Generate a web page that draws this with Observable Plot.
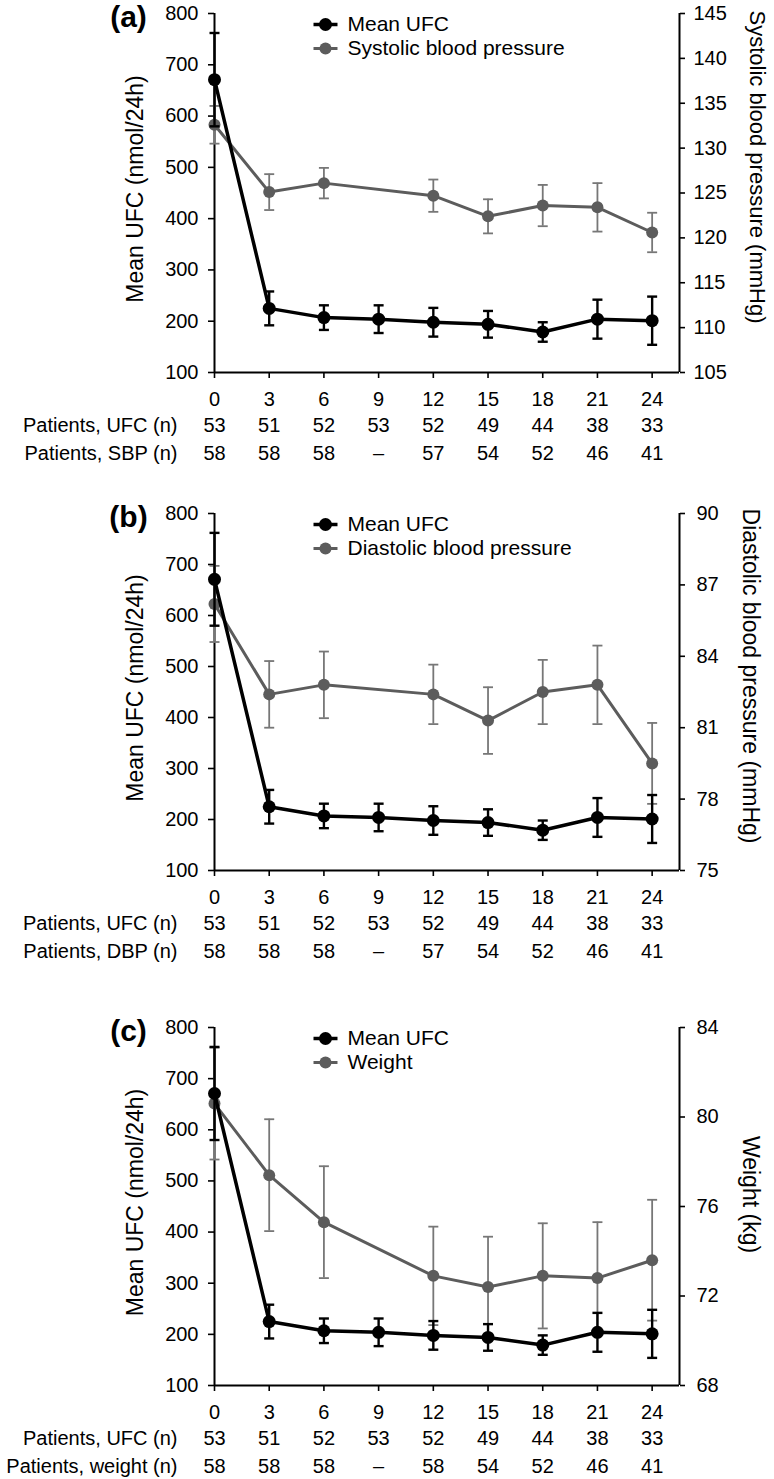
<!DOCTYPE html>
<html><head><meta charset="utf-8">
<script src="https://cdn.jsdelivr.net/npm/d3@7"></script>
<script src="https://cdn.jsdelivr.net/npm/@observablehq/plot@0.6"></script>
<style>
body{margin:0;background:#fff;}
#chart svg{display:block;}
</style></head><body><div id="chart"></div>
<script>
// ---- data ----
const months = [0, 3, 6, 9, 12, 15, 18, 21, 24];
const ufcMean = [671, 225, 207, 204, 198, 194, 179, 204, 201];
const ufcErr  = [91, 33, 24, 27, 28, 26, 19, 38, 47];
const sbpMean = [132.6, 125.1, 126.1, null, 124.7, 122.4, 123.6, 123.4, 120.6];
const sbpErr  = [2.1, 2.0, 1.7, null, 1.8, 1.9, 2.3, 2.7, 2.2];
const dbpMean = [86.2, 82.4, 82.8, null, 82.4, 81.3, 82.5, 82.8, 79.5];
const dbpErr  = [1.6, 1.4, 1.4, null, 1.25, 1.4, 1.35, 1.65, 1.7];
const weightMean = [80.6, 77.4, 75.3, null, 72.9, 72.4, 72.9, 72.8, 73.6];
const weightErr  = [2.5, 2.5, 2.5, null, 2.2, 2.25, 2.35, 2.5, 2.7];
const ufcN    = [53, 51, 52, 53, 52, 49, 44, 38, 33];
const sbpN    = [58, 58, 58, null, 57, 54, 52, 46, 41];
const dbpN    = [58, 58, 58, null, 57, 54, 52, 46, 41];
const weightN = [58, 58, 58, null, 58, 54, 52, 46, 41];
const ufcTicks = [100, 200, 300, 400, 500, 600, 700, 800];
const sbpTicks = [105, 110, 115, 120, 125, 130, 135, 140, 145];
const dbpTicks = [75, 78, 81, 84, 87, 90];
const weightTicks = [68, 72, 76, 80, 84];
const xDomain = [0, 25.5];

const BLACK = "#000";
const GREY = "#5c5c5c";
const GREY_ERR = "#777";
const FONT = "'Liberation Sans', Arial, Helvetica, sans-serif";

const capSym = {draw(ctx, size) { const r = Math.sqrt(size / Math.PI); ctx.moveTo(-r, 0); ctx.lineTo(r, 0); }};

const panels = [
  {tag: "(a)", legend: "Systolic blood pressure", rightTitle: "Systolic blood pressure (mmHg)", rowLabel: "Patients, SBP (n)",
   mean: sbpMean, err: sbpErr, n: sbpN, ticks: sbpTicks,
   height: 478, marginTop: 13, marginBottom: 106, rightPad: 9, rtDx: 78, rtDy: -26, rtSize: 22},
  {tag: "(b)", legend: "Diastolic blood pressure", rightTitle: "Diastolic blood pressure (mmHg)", rowLabel: "Patients, DBP (n)",
   mean: dbpMean, err: dbpErr, n: dbpN, ticks: dbpTicks,
   height: 478, marginTop: 35, marginBottom: 86, rightPad: 12, rtDx: 71, rtDy: -16, rtSize: 23},
  {tag: "(c)", legend: "Weight", rightTitle: "Weight (kg)", rowLabel: "Patients, weight (n)",
   mean: weightMean, err: weightErr, n: weightN, ticks: weightTicks,
   height: 523, marginTop: 71, marginBottom: 94, rightPad: 12, rtDx: 71, rtDy: -12, rtSize: 23}
];

function makePanel(p) {
  const sec = d3.scaleLinear().domain(d3.extent(p.ticks)).range([100, 800]);
  const ufc = months.map((m, i) => ({m, v: ufcMean[i], lo: ufcMean[i] - ufcErr[i], hi: ufcMean[i] + ufcErr[i]}));
  const other = months.map((m, i) => p.mean[i] == null ? null :
    ({m, v: sec(p.mean[i]), lo: sec(p.mean[i] - p.err[i]), hi: sec(p.mean[i] + p.err[i])})).filter(d => d);
  const row1 = months.map((m, i) => ({m, t: String(ufcN[i])}));
  const row2 = months.map((m, i) => ({m, t: p.n[i] == null ? "\u2013" : String(p.n[i])}));

  return Plot.plot({
    width: 774, height: p.height,
    marginLeft: 214, marginRight: 95, marginTop: p.marginTop, marginBottom: p.marginBottom,
    style: {fontFamily: FONT, fontSize: "20px", color: "black", background: "white", overflow: "visible"},
    x: {domain: xDomain},
    y: {domain: [100, 800]},
    marks: [
      // axes
      Plot.axisX(months, {anchor: "bottom", tickSize: 6, tickPadding: 13, strokeWidth: 1.6, label: null, fontSize: 20}),
      Plot.axisY(ufcTicks, {anchor: "left", tickSize: 6, tickPadding: 10, strokeWidth: 1.6, label: null, fontSize: 20}),
      Plot.axisY(p.ticks.map(sec), {anchor: "right", tickSize: 5, tickPadding: p.rightPad, strokeWidth: 1.6, label: null, fontSize: 20,
        tickFormat: u => String(Math.round(sec.invert(u)))}),
      Plot.ruleX([xDomain[0]], {stroke: BLACK, strokeWidth: 2}),
      Plot.ruleX([xDomain[1]], {stroke: BLACK, strokeWidth: 2}),
      Plot.ruleY([100], {stroke: BLACK, strokeWidth: 2}),
      // secondary series (grey)
      Plot.ruleX(other, {x: "m", y1: "lo", y2: "hi", stroke: GREY_ERR, strokeWidth: 1.8}),
      Plot.dot(other, {x: "m", y: "lo", symbol: capSym, r: 5, fill: "none", stroke: GREY_ERR, strokeWidth: 1.8}),
      Plot.dot(other, {x: "m", y: "hi", symbol: capSym, r: 5, fill: "none", stroke: GREY_ERR, strokeWidth: 1.8}),
      Plot.line(other, {x: "m", y: "v", stroke: GREY, strokeWidth: 3, strokeLinejoin: "round"}),
      Plot.dot(other, {x: "m", y: "v", r: 6, fill: GREY}),
      // mean UFC (black)
      Plot.ruleX(ufc, {x: "m", y1: "lo", y2: "hi", stroke: BLACK, strokeWidth: 2.4}),
      Plot.dot(ufc, {x: "m", y: "lo", symbol: capSym, r: 5, fill: "none", stroke: BLACK, strokeWidth: 2.4}),
      Plot.dot(ufc, {x: "m", y: "hi", symbol: capSym, r: 5, fill: "none", stroke: BLACK, strokeWidth: 2.4}),
      Plot.line(ufc, {x: "m", y: "v", stroke: BLACK, strokeWidth: 3.5, strokeLinejoin: "round"}),
      Plot.dot(ufc, {x: "m", y: "v", r: 6.5, fill: BLACK}),
      // legend
      Plot.dot([0], {frameAnchor: "top-left", dx: 111, dy: 11, symbol: capSym, r: 12, fill: "none", stroke: BLACK, strokeWidth: 3.5}),
      Plot.dot([0], {frameAnchor: "top-left", dx: 111, dy: 11, r: 6.5, fill: BLACK}),
      Plot.text(["Mean UFC"], {frameAnchor: "top-left", dx: 133, dy: 11, textAnchor: "start", lineAnchor: "middle", fontSize: 21}),
      Plot.dot([0], {frameAnchor: "top-left", dx: 111, dy: 35, symbol: capSym, r: 12, fill: "none", stroke: GREY, strokeWidth: 3}),
      Plot.dot([0], {frameAnchor: "top-left", dx: 111, dy: 35, r: 6, fill: GREY}),
      Plot.text([p.legend], {frameAnchor: "top-left", dx: 133, dy: 35, textAnchor: "start", lineAnchor: "middle", fontSize: 21}),
      // panel tag
      Plot.text([p.tag], {frameAnchor: "top-left", dx: -86, dy: 4, textAnchor: "middle", lineAnchor: "middle", fontSize: 30, fontWeight: "bold"}),
      // axis titles
      Plot.text(["Mean UFC (nmol/24h)"], {frameAnchor: "left", rotate: -90, dx: -79, dy: -4, textAnchor: "middle", lineAnchor: "middle", fontSize: 23}),
      Plot.text([p.rightTitle], {frameAnchor: "right", rotate: 90, dx: p.rtDx, dy: p.rtDy, textAnchor: "middle", lineAnchor: "middle", fontSize: p.rtSize}),
      // patient-count rows
      Plot.text(row1, {x: "m", text: "t", frameAnchor: "bottom", dy: 53, lineAnchor: "middle", textAnchor: "middle", fontSize: 20}),
      Plot.text(row2, {x: "m", text: "t", frameAnchor: "bottom", dy: 81, lineAnchor: "middle", textAnchor: "middle", fontSize: 20}),
      Plot.text(["Patients, UFC (n)"], {frameAnchor: "bottom-left", dx: -37, dy: 53, textAnchor: "end", lineAnchor: "middle", fontSize: 20}),
      Plot.text([p.rowLabel], {frameAnchor: "bottom-left", dx: -37, dy: 81, textAnchor: "end", lineAnchor: "middle", fontSize: 20})
    ]
  });
}

const root = document.getElementById("chart");
for (const p of panels) root.append(makePanel(p));
</script>
</body></html>
